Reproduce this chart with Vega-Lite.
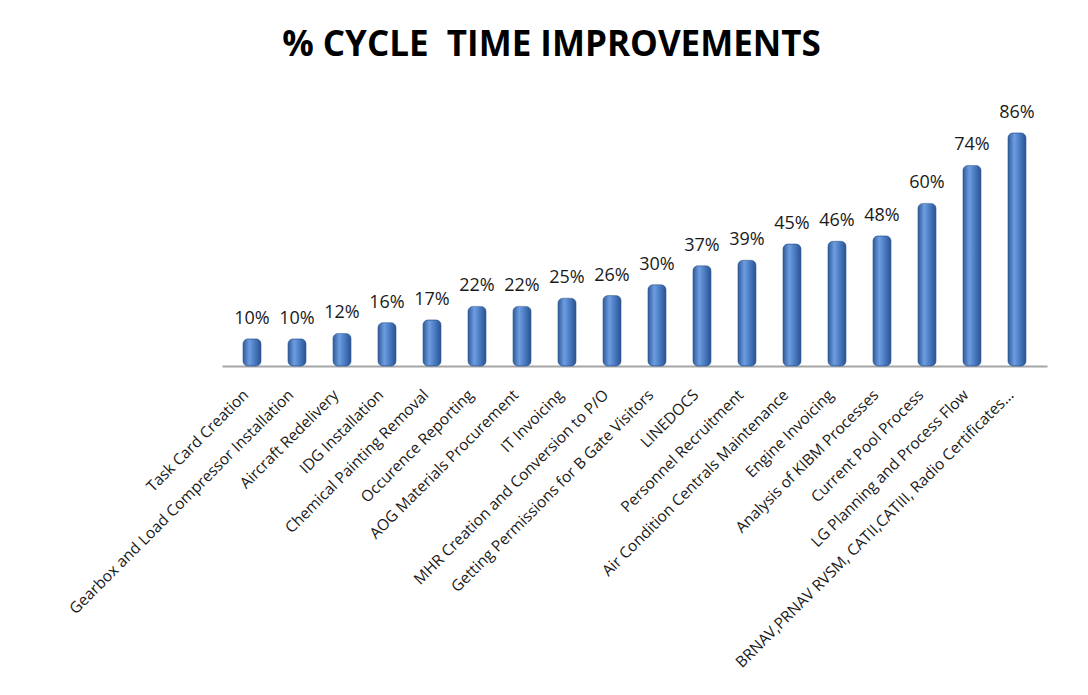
{
  "$schema": "https://vega.github.io/schema/vega-lite/v6.json",
  "width": 825,
  "height": 271,
  "autosize": "none",
  "padding": {"left": 222, "top": 95, "right": 41, "bottom": 329},
  "background": "white",
  "title": {
    "text": "% CYCLE\u00a0 TIME IMPROVEMENTS",
    "font": "Open Sans",
    "fontSize": 35,
    "fontWeight": "bold",
    "color": "#000000",
    "anchor": "middle",
    "dx": -83,
    "offset": 32
  },
  "data": {
    "values": [
      {"task": "Task Card Creation", "pct": 10},
      {"task": "Gearbox and Load Compressor Installation", "pct": 10},
      {"task": "Aircraft Redelivery", "pct": 12},
      {"task": "IDG Installation", "pct": 16},
      {"task": "Chemical Painting Removal", "pct": 17},
      {"task": "Occurence Reporting", "pct": 22},
      {"task": "AOG Materials Procurement", "pct": 22},
      {"task": "IT Invoicing", "pct": 25},
      {"task": "MHR Creation and Conversion to P/O", "pct": 26},
      {"task": "Getting Permissions for B Gate Visitors", "pct": 30},
      {"task": "LINEDOCS", "pct": 37},
      {"task": "Personnel Recruitment", "pct": 39},
      {"task": "Air Condition Centrals Maintenance", "pct": 45},
      {"task": "Engine Invoicing", "pct": 46},
      {"task": "Analysis of KIBM Processes", "pct": 48},
      {"task": "Current Pool Process", "pct": 60},
      {"task": "LG Planning and Process Flow", "pct": 74},
      {"task": "BRNAV,PRNAV RVSM, CATII,CATIII, Radio Certificates...", "pct": 86}
    ]
  },
  "encoding": {
    "x": {
      "field": "task",
      "type": "nominal",
      "sort": null,
      "title": null,
      "scale": {"paddingInner": 0.6, "paddingOuter": 0.467},
      "axis": {
        "labelAngle": -45,
        "labelAlign": "right",
        "labelBaseline": "middle",
        "labelFont": "Open Sans",
        "labelFontSize": 15.5,
        "labelColor": "#1a1a1a",
        "labelPadding": 26,
        "labelOffset": -6,
        "labelLimit": 600,
        "ticks": false,
        "domainColor": "#a6a6a6",
        "domainWidth": 2
      }
    },
    "y": {
      "field": "pct",
      "type": "quantitative",
      "scale": {"domain": [0, 100]},
      "axis": null
    }
  },
  "layer": [
    {
      "mark": {
        "type": "bar",
        "cornerRadiusTopLeft": 5,
        "cornerRadiusTopRight": 5,
        "cornerRadiusBottomLeft": 5,
        "cornerRadiusBottomRight": 5,
        "stroke": "#2f5b95",
        "strokeWidth": 0.6,
        "fill": {
          "x1": 0, "y1": 0, "x2": 1, "y2": 0,
          "gradient": "linear",
          "stops": [
            {"offset": 0, "color": "#2f5b98"},
            {"offset": 0.35, "color": "#6e9de0"},
            {"offset": 0.6, "color": "#4f81c8"},
            {"offset": 1, "color": "#2a5290"}
          ]
        }
      }
    },
    {
      "mark": {
        "type": "text",
        "dy": -20,
        "font": "Open Sans",
        "fontSize": 18,
        "color": "#1a1a1a",
        "text": {"expr": "datum.pct + '%'"}
      }
    }
  ],
  "config": {"view": {"stroke": null}}
}
